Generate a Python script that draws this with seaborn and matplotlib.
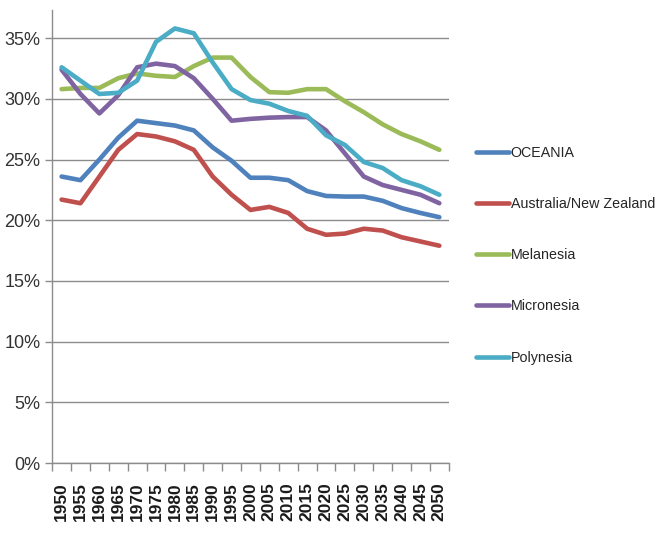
import numpy as np
import pandas as pd
import matplotlib
matplotlib.use("Agg")
import matplotlib.pyplot as plt
from matplotlib.ticker import FixedLocator, FuncFormatter
import seaborn as sns

years = list(range(1950, 2051, 5))
regions = ["OCEANIA", "Australia/New Zealand", "Melanesia", "Micronesia", "Polynesia"]

oceania = [23.6, 23.3, 25.0, 26.8, 28.2, 28.0, 27.8, 27.4, 26.0, 24.9, 23.5,
           23.5, 23.3, 22.4, 22.0, 21.95, 21.95, 21.6, 21.0, 20.6, 20.25]
aus_nz = [21.7, 21.4, 23.6, 25.8, 27.1, 26.9, 26.5, 25.8, 23.6, 22.1, 20.85,
          21.1, 20.6, 19.3, 18.8, 18.9, 19.3, 19.15, 18.6, 18.25, 17.9]
melanesia = [30.8, 30.9, 30.9, 31.7, 32.1, 31.9, 31.8, 32.7, 33.4, 33.4, 31.8,
             30.55, 30.5, 30.8, 30.8, 29.8, 28.9, 27.9, 27.1, 26.5, 25.8]
micronesia = [32.4, 30.4, 28.8, 30.3, 32.6, 32.9, 32.7, 31.7, 30.0, 28.2, 28.35,
              28.45, 28.5, 28.5, 27.4, 25.5, 23.6, 22.9, 22.5, 22.1, 21.4]
polynesia = [32.6, 31.5, 30.4, 30.5, 31.5, 34.7, 35.8, 35.4, 33.0, 30.8, 29.9,
             29.6, 29.0, 28.6, 27.0, 26.2, 24.8, 24.3, 23.3, 22.8, 22.1]

colors = ["#4F81BD", "#C0504D", "#9BBB59", "#8064A2", "#4BACC6"]

series = [oceania, aus_nz, melanesia, micronesia, polynesia]
df = pd.concat(
    [pd.DataFrame({"year": years, "share": vals, "region": name})
     for name, vals in zip(regions, series)],
    ignore_index=True,
)

sns.set_style("white")
plt.rcParams["font.family"] = ["Liberation Sans", "DejaVu Sans"]

fig = plt.figure(figsize=(6.6, 5.39), dpi=100)
ax = fig.add_axes([0.079, 0.141, 0.601, 0.840])

sns.lineplot(data=df, x="year", y="share", hue="region", hue_order=regions,
             palette=colors, linewidth=3.3, ax=ax, legend=True)

ax.set_xlim(1947.5, 2052.5)
ax.set_ylim(0, 37.3)
ax.set_yticks(range(0, 36, 5))
ax.yaxis.set_major_formatter(FuncFormatter(lambda v, p: f"{int(v)}%"))
ax.grid(axis="y", color="#8c8c8c", linewidth=1)
ax.set_axisbelow(True)

ax.set_xticks(years)
ax.set_xticklabels([str(y) for y in years], rotation=90, fontsize=12.5,
                   fontweight="bold", color="#1a1a1a")
ax.xaxis.set_minor_locator(FixedLocator([y - 2.5 for y in years] + [2052.5]))
ax.tick_params(axis="x", which="major", length=0, pad=14)
ax.tick_params(axis="x", which="minor", length=6, color="#8c8c8c", width=1,
               direction="out", bottom=True)
ax.tick_params(axis="y", length=5, color="#8c8c8c", width=1, labelsize=13,
               labelcolor="#333333", left=True)

ax.set_xlabel("")
ax.set_ylabel("")
for side in ["top", "right"]:
    ax.spines[side].set_visible(False)
for side in ["left", "bottom"]:
    ax.spines[side].set_color("#8c8c8c")
    ax.spines[side].set_linewidth(1)

handles, labels = ax.get_legend_handles_labels()
ax.get_legend().remove()
fig.legend(handles, labels, loc="upper left", bbox_to_anchor=(0.712, 0.740),
           frameon=False, fontsize=10.3, handlelength=2.3, handletextpad=0.15,
           labelspacing=2.6, borderaxespad=0)

fig.savefig("out.png", dpi=100)
